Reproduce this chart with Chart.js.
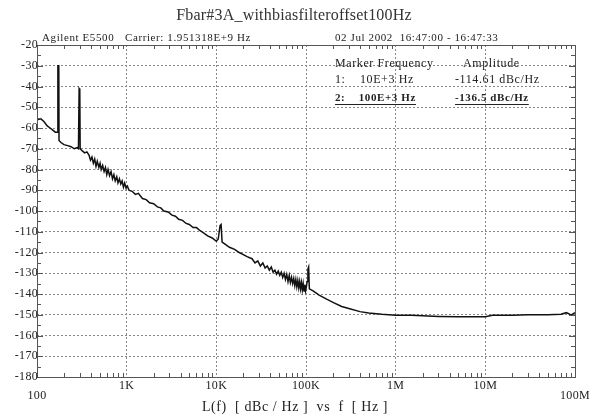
<!DOCTYPE html>
<html>
<head>
<meta charset="utf-8">
<script src="https://cdn.jsdelivr.net/npm/chart.js@4.4.0/dist/chart.umd.min.js"></script>
<style>
  body { margin: 0; background: #fff; }
  canvas { display: block; }
</style>
</head>
<body>
<canvas id="chart" width="592" height="420"></canvas>
<script>
// offset frequency (Hz) and phase noise L(f) (dBc/Hz)
var freqHz = [
  100, 110, 120, 130, 140, 150, 160, 170, 171, 175, 176, 185, 200, 220, 240, 260, 280, 290, 295, 300, 303, 320, 340, 360,
  380, 395, 410, 425, 440, 455, 470, 490, 505, 520, 540, 560, 580, 600, 620, 645, 670, 695, 720, 745, 775, 800, 830, 860,
  890, 920, 950, 985, 1020, 1060,
  1150, 1250, 1350, 1500, 1650, 1800, 2000, 2200, 2400, 2600, 2900, 3200, 3500, 3800, 4200, 4600, 5000, 5500, 6000,
  6600, 7200, 8000, 9000, 10000, 10500, 11000, 11300, 11600, 12500, 14000, 16000, 18000, 20000, 22000,
  25000, 27000, 29000, 31000, 33000, 35000, 37000, 39000, 41000, 43000, 45000, 47000, 49000, 51000, 53000, 55000,
  57000, 59000, 61000, 63000, 65000, 67000, 69000, 71000, 73000, 75000, 77000, 79000, 81000, 83000, 85000, 87000,
  89000, 91000, 93000, 95000, 97000, 99000, 101000, 103000, 105000, 107000, 109000,
  120000, 140000, 170000, 200000, 250000, 300000, 400000, 500000, 700000, 1e6, 1.5e6, 2e6, 3e6, 5e6, 7e6, 1e7,
  1.2e7, 2e7, 3e7, 5e7, 7e7, 8e7, 8.5e7, 9e7, 1e8];
var levelDb = [
  -56, -55.5, -57, -59, -60, -61, -62, -62, -30, -30, -66, -67, -68, -68.5, -69, -70, -69.5, -70, -41, -41.5, -70, -71, -72, -71.5,
  -73, -75.5, -74, -77, -75, -78.5, -76, -79, -77, -80, -78, -81, -79, -82.5, -80, -83, -81, -84.5, -82.5, -85.5, -83.5, -86.5, -84.5, -87,
  -85.5, -88.5, -86.5, -89, -88, -90,
  -90.5, -92, -91.5, -94, -94.5, -96, -96.5, -98, -98.5, -100, -100.5, -102, -102.5, -104, -104.5, -106, -106.5, -108, -108,
  -109.5, -110.5, -112, -113, -114.6, -113.5, -107, -106.5, -115, -116, -117.5, -118.5, -120, -121, -122,
  -123, -125, -124, -126.5, -125, -127.5, -126.5, -128.5, -127, -129.5, -128.5, -130.5, -129, -131, -129.5, -132,
  -130, -133, -130.5, -134, -131, -134.5, -132, -135, -132.5, -136, -133, -136.5, -133.5, -137, -134, -137.5,
  -134.5, -138, -135, -138.5, -135.5, -138.5, -136.5, -134, -128, -127, -137.5,
  -138.5, -140.5, -142.5, -144, -146, -147, -148.5, -149.2, -149.8, -150.2, -150.3, -150.5, -150.8, -151, -151, -151,
  -150.3, -150.2, -150, -150, -149.8, -149, -149.5, -150.2, -149];

var decades = [100, 1e3, 1e4, 1e5, 1e6, 1e7, 1e8];
var decadeLabels = ['100', '1K', '10K', '100K', '1M', '10M', '100M'];
var yTicks = [-20, -30, -40, -50, -60, -70, -80, -90, -100, -110, -120, -130, -140, -150, -160, -170, -180];

var serif = '"Liberation Serif", "DejaVu Serif", serif';

var points = freqHz.map(function (f, i) { return { x: f, y: levelDb[i] }; });

var decorations = {
  id: 'decorations',
  afterDraw: function (chart) {
    var ctx = chart.ctx, a = chart.chartArea;
    var xs = chart.scales.x, ys = chart.scales.y;
    ctx.save();
    // frame
    ctx.strokeStyle = '#555';
    ctx.lineWidth = 1;
    ctx.strokeRect(a.left + 0.5, a.top + 0.5, a.right - a.left, a.bottom - a.top);

    // minor ticks, y every 5 dB, both sides
    ctx.beginPath();
    for (var v = -180; v <= -20; v += 5) {
      var py = Math.round(ys.getPixelForValue(v)) + 0.5;
      var len = (v % 10 === 0) ? 6 : 4;
      ctx.moveTo(a.left, py); ctx.lineTo(a.left + len, py);
      ctx.moveTo(a.right, py); ctx.lineTo(a.right - len, py);
    }
    // minor ticks, x log 2..9, top and bottom
    for (var d = 0; d < decades.length - 1; d++) {
      for (var m = 2; m <= 9; m++) {
        var px = Math.round(xs.getPixelForValue(decades[d] * m)) + 0.5;
        ctx.moveTo(px, a.bottom); ctx.lineTo(px, a.bottom - 4);
        ctx.moveTo(px, a.top); ctx.lineTo(px, a.top + 4);
      }
    }
    ctx.stroke();

    ctx.fillStyle = '#222';
    // y labels
    ctx.font = '12px ' + serif;
    ctx.letterSpacing = '0.3px';
    ctx.textAlign = 'right';
    ctx.textBaseline = 'middle';
    yTicks.forEach(function (t) {
      ctx.fillText(String(t), a.left + 1, ys.getPixelForValue(t));
    });
    // x labels
    ctx.textAlign = 'center';
    decades.forEach(function (f, i) {
      var yy = (i === 0 || i === decades.length - 1) ? a.bottom + 19 : a.bottom + 9;
      ctx.fillText(decadeLabels[i], xs.getPixelForValue(f), yy);
    });
    ctx.font = '14px ' + serif;
    ctx.letterSpacing = '0.6px';
    ctx.fillText('L(f)  [ dBc / Hz ]  vs  f  [ Hz ]', 295, 407);

    // title
    ctx.letterSpacing = '0.2px';
    ctx.font = '16px ' + serif;
    ctx.fillStyle = '#333';
    ctx.fillText('Fbar#3A_withbiasfilteroffset100Hz', 294, 16);

    // header line
    ctx.letterSpacing = '0.6px';
    ctx.font = '11px ' + serif;
    ctx.fillStyle = '#222';
    ctx.textAlign = 'left';
    ctx.textBaseline = 'alphabetic';
    ctx.fillText('Agilent E5500', 42, 41);
    ctx.fillText('Carrier: 1.951318E+9 Hz', 125, 41);
    ctx.fillText('02 Jul 2002  16:47:00 - 16:47:33', 335, 41);

    // marker table
    ctx.font = '12px ' + serif;
    ctx.fillText('Marker Frequency', 335, 67);
    ctx.fillText('Amplitude', 463, 67);
    ctx.fillText('1:    10E+3 Hz', 335, 83);
    ctx.fillText('-114.61 dBc/Hz', 455, 83);
    ctx.font = 'bold 11px ' + serif;
    var m1 = '2:    100E+3 Hz', m2 = '-136.5 dBc/Hz';
    ctx.fillText(m1, 335, 101);
    ctx.fillText(m2, 455, 101);
    ctx.lineWidth = 1.2;
    ctx.strokeStyle = '#222';
    ctx.beginPath();
    ctx.moveTo(335, 104.5); ctx.lineTo(335 + ctx.measureText(m1).width, 104.5);
    ctx.moveTo(455, 104.5); ctx.lineTo(455 + ctx.measureText(m2).width, 104.5);
    ctx.stroke();
    ctx.restore();
  }
};

new Chart(document.getElementById('chart'), {
  type: 'line',
  data: {
    datasets: [{
      data: points,
      borderColor: '#111',
      borderWidth: 1.5,
      pointRadius: 0,
      fill: false,
      tension: 0
    }]
  },
  options: {
    responsive: false,
    animation: false,
    layout: { padding: { left: 37, right: 17, top: 45, bottom: 43 } },
    plugins: { legend: { display: false }, tooltip: { enabled: false } },
    scales: {
      x: {
        type: 'logarithmic',
        min: 100,
        max: 1e8,
        afterBuildTicks: function (scale) {
          scale.ticks = decades.map(function (v) { return { value: v }; });
        },
        ticks: { display: false },
        grid: { color: '#888', lineWidth: 1, drawTicks: false },
        border: { display: false, dash: [2, 2] }
      },
      y: {
        min: -180,
        max: -20,
        ticks: { display: false, stepSize: 10 },
        grid: { color: '#888', lineWidth: 1, drawTicks: false },
        border: { display: false, dash: [2, 2] }
      }
    }
  },
  plugins: [decorations]
});
</script>
</body>
</html>
